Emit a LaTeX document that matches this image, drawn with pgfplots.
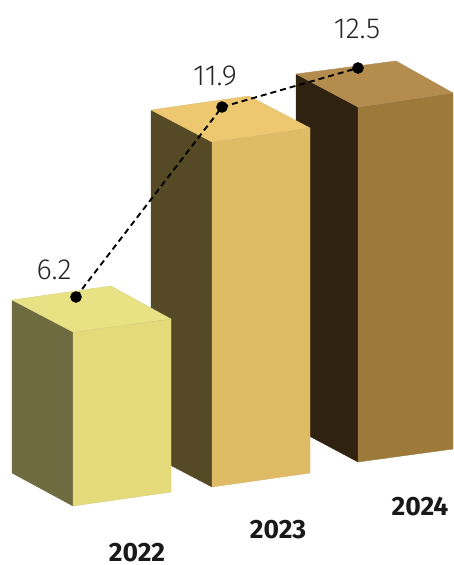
\documentclass[border=0pt]{standalone}
\usepackage{pgfplots}
\pgfplotsset{compat=1.18}
\usepackage{fontspec}
\setmainfont{Fira Sans}
\newfontfamily\lightf{Fira Sans Light}
\definecolor{aF}{HTML}{E4DA7A}\definecolor{aT}{HTML}{E8E285}\definecolor{aL}{HTML}{6E6B40}
\definecolor{bF}{HTML}{E0BB66}\definecolor{bT}{HTML}{EDC871}\definecolor{bL}{HTML}{564925}
\definecolor{cF}{HTML}{9E7A3A}\definecolor{cT}{HTML}{B48D4E}\definecolor{cL}{HTML}{2F2210}
\begin{document}
\begin{tikzpicture}
\useasboundingbox (0,0) rectangle (453pt,565pt);
\begin{axis}[
  anchor=south west, at={(0,0)},
  scale only axis, width=453pt, height=565pt,
  xmin=0, xmax=453, ymin=0, ymax=565, y dir=reverse,
  hide axis, clip=true,
  face/.style={draw=#1!85!gray, line width=0.4pt, fill=#1},
]
% bar 2024
\addplot[face=cL] coordinates {(296,74) (358,107) (358,462) (296,429) (296,74)};
\addplot[face=cF] coordinates {(358,107) (453,93) (453,449) (358,462) (358,107)};
\addplot[face=cT] coordinates {(296,74) (396,61) (453,93) (358,107) (296,74)};
% bar 2023
\addplot[face=bL] coordinates {(151,110) (212,142) (212,487) (151,455) (151,110)};
\addplot[face=bF] coordinates {(212,142) (310,128) (310,473) (212,487) (212,142)};
\addplot[face=bT] coordinates {(151,110) (249,96) (310,128) (212,142) (151,110)};
% bar 2022
\addplot[face=aL] coordinates {(12,300) (73,332) (73,506) (12,473) (12,300)};
\addplot[face=aF] coordinates {(73,332) (171,319) (171,492) (73,506) (73,332)};
\addplot[face=aT] coordinates {(12,300) (111,286) (171,319) (73,332) (12,300)};
% line
\addplot[black, line width=1.9pt, dash pattern=on 6pt off 4pt, mark=*, mark size=4.8pt,
  mark options={solid, fill=black}] coordinates {(76,297) (222,107) (358,68)};
\node[font=\fontsize{29}{29}\selectfont\lightf, text=black!85] at (axis cs:54,270) {6.2};
\node[font=\fontsize{29}{29}\selectfont\lightf, text=black!85] at (axis cs:215,76) {11.9};
\node[font=\fontsize{29}{29}\selectfont\lightf, text=black!85] at (axis cs:357,29) {12.5};
\node[font=\fontsize{26.5}{27}\selectfont\bfseries, text=black!90] at (axis cs:137,553) {2022};
\node[font=\fontsize{26.5}{27}\selectfont\bfseries, text=black!90] at (axis cs:278,530) {2023};
\node[font=\fontsize{26.5}{27}\selectfont\bfseries, text=black!90] at (axis cs:420,507) {2024};
\end{axis}
\end{tikzpicture}
\end{document}
